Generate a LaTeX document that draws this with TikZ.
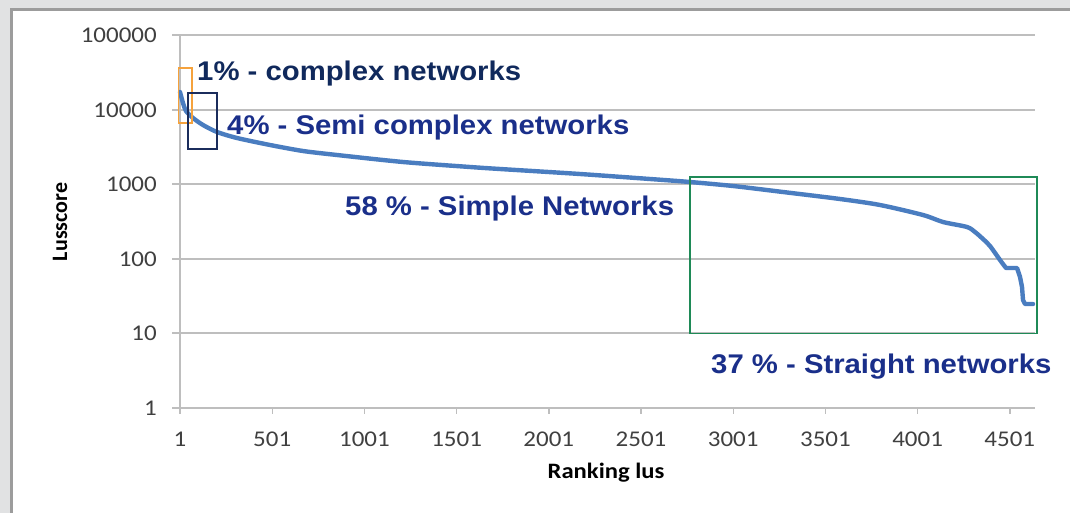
\documentclass[tikz,border=0pt]{standalone}
\usepackage{fontspec}
\setmainfont{Carlito}
\newfontfamily\annfont{Liberation Sans}
\definecolor{pagebg}{HTML}{E1E2E3}
\definecolor{frameline}{HTML}{9C9C9C}
\definecolor{gridgray}{HTML}{BEBEBE}
\definecolor{ticktext}{HTML}{404040}
\definecolor{curveblue}{HTML}{4A7DC0}
\definecolor{navyA}{HTML}{10295C}
\definecolor{navyB}{HTML}{1A2F8A}
\definecolor{boxorange}{HTML}{F5A23C}
\definecolor{boxnavy}{HTML}{1B2D5C}
\definecolor{boxgreen}{HTML}{1F8A57}
\tikzset{
  gridline/.style={draw=gridgray, line width=1.4pt},
  ytick/.style={anchor=east, text=ticktext, font=\fontsize{22.5}{26}\selectfont, inner sep=0pt, xscale=1.11},
  xtick/.style={anchor=center, text=ticktext, font=\fontsize{22.5}{26}\selectfont, inner sep=0pt, xscale=1.11},
  axtitle/.style={text=black, font=\bfseries\fontsize{22}{26}\selectfont, inner sep=0pt},
  annot/.style={anchor=base west, inner sep=0pt, font=\annfont\bfseries\fontsize{27}{32}\selectfont, xscale=1.085},
  series/.style={draw=curveblue, line width=4.4pt, line join=round, line cap=round},
}
\begin{document}
\begin{tikzpicture}[x=1pt,y=-1pt]
\useasboundingbox (0,0) rectangle (1070,513);
% page background and chart panel
\fill[pagebg] (0,0) rectangle (1070,513);
\fill[white] (11,9) rectangle (1070,513);
\draw[frameline, line width=2.5pt] (11.5,513) -- (11.5,9.5) -- (1070,9.5);

% horizontal gridlines, one per decade
\foreach \yy in {35,110,184,259,333} {
  \draw[gridline] (172,\yy) -- (1035,\yy);
}
% axes
\draw[gridline] (172,408) -- (1035,408);
\draw[gridline] (180,35) -- (180,414);
\foreach \i in {0,...,9} {
  \draw[gridline] ({180+\i*92.2},408) -- ({180+\i*92.2},414);
}

% y tick labels
\node[ytick] (y0) at (157,408) {1};
\node[ytick] (y1) at (157,333) {10};
\node[ytick] (y2) at (157,259) {100};
\node[ytick] (y3) at (157,184) {1000};
\node[ytick] (y4) at (157,110) {10000};
\node[ytick] (y5) at (157,35) {100000};

% x tick labels
\foreach \lab [count=\i from 0] in {1,501,1001,1501,2001,2501,3001,3501,4001,4501} {
  \node[xtick] (x\i) at ({180+\i*92.2},439) {\lab};
}

% axis titles
\node[axtitle, rotate=90] (ytitle) at (60,222) {Lusscore};
\node[axtitle, xscale=1.12] (xtitle) at (606,473) {Ranking lus};

% score curve
\draw[series] plot[smooth, tension=0.45] coordinates {
  (180,92) (183,103) (186,111) (193,118) (203,125) (217,132) (237,138)
  (270,145) (303,151) (337,155) (403,162) (470,167) (500,169) (580,174)
  (650,179) (690,182) (733,186) (783,192) (840,199) (880,205) (923,215)
  (943,222) (967,227) (975,232) (983,239) (990,246) (1000,260) (1006,268)}
  -- (1017,268) -- (1020,277) -- (1022,287) -- (1023,300) -- (1025,304) -- (1033,304);

% highlighted ranges
\draw[boxorange, line width=1.8pt] (178.5,68) rectangle (192,123);
\draw[boxnavy, line width=1.6pt] (188,93) rectangle (217,149);
\draw[boxgreen, line width=1.6pt] (690,177) rectangle (1037,333.5);

% annotations
\node[annot, text=navyA] (complex) at (197,81) {1\% - complex networks};
\node[annot, text=navyB] (semi) at (227,135) {4\% - Semi complex networks};
\node[annot, text=navyB] (simple) at (345,215) {58 \% - Simple Networks};
\node[annot, text=navyB] (straight) at (711,373) {37 \% - Straight networks};
\end{tikzpicture}
\end{document}
